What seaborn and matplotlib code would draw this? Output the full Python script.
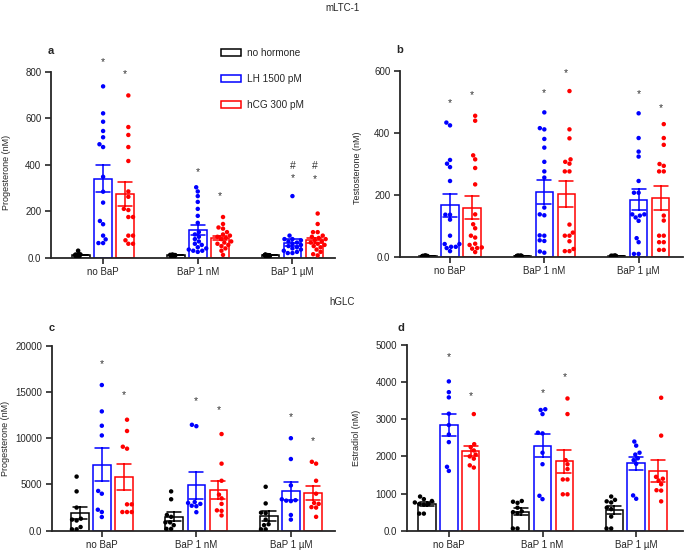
import warnings
import pandas as pd
import matplotlib.pyplot as plt
import matplotlib.patches as mpatches
import seaborn as sns

warnings.filterwarnings("ignore")

groups = ["no BaP", "BaP 1 nM", "BaP 1 µM"]
hormones = ["no hormone", "LH 1500 pM", "hCG 300 pM"]
colors = ["black", "#0000ff", "#ff0000"]

# a - mLTC-1, progesterone (nM), one list per BaP group
a_none = [[5, 8, 10, 12, 15, 10, 8, 30, 12, 10, 14, 6, 9, 11, 13, 10],
          [8, 10, 12, 9, 11, 10, 7, 13, 10, 9, 12, 8, 11, 10, 9, 10],
          [9, 10, 12, 8, 11, 10, 7, 13, 10, 9, 12, 8, 11, 10, 9, 10]]
a_lh = [[737, 621, 585, 545, 518, 476, 488, 348, 284, 237, 158, 144, 95, 79, 63, 63],
        [303, 285, 265, 240, 210, 180, 150, 110, 100, 90, 80, 70, 60, 55, 45, 35, 30, 25, 40, 30],
        [265, 95, 80, 80, 75, 70, 65, 60, 55, 50, 45, 40, 35, 30, 25, 20, 20]]
a_hcg = [[698, 562, 528, 476, 416, 285, 262, 210, 205, 175, 175, 95, 95, 75, 60, 60],
         [175, 145, 130, 125, 110, 100, 95, 90, 85, 80, 70, 65, 60, 55, 50, 40, 30, 12],
         [190, 145, 110, 110, 95, 90, 85, 80, 75, 70, 65, 60, 55, 50, 45, 35, 25, 15, 10]]
a_star_lh = [843, 370, 342]
a_star_hcg = [789, 265, 340]
a_hash = [None, None, 396]

# b - mLTC-1, testosterone (nM)
b_none = [[1, 2, 3, 2, 1, 2, 3, 2, 1, 2, 2, 3, 1, 2, 2, 1],
          [1, 2, 3, 2, 1, 2, 3, 2, 1, 2, 2, 3, 1, 2, 2, 1],
          [1, 2, 3, 2, 1, 2, 3, 2, 1, 2, 2, 3, 1, 2, 2, 1]]
b_lh = [[434, 425, 313, 301, 290, 245, 136, 136, 120, 68, 41, 41, 32, 32, 28, 18],
        [467, 416, 412, 381, 353, 307, 276, 256, 159, 137, 134, 69, 68, 51, 53, 13, 17],
        [464, 384, 340, 324, 245, 207, 207, 137, 137, 133, 127, 116, 60, 47, 9, 9]]
b_hcg = [[456, 440, 328, 315, 287, 234, 137, 105, 92, 68, 62, 42, 38, 30, 28, 26, 15],
         [536, 412, 383, 315, 307, 301, 276, 276, 104, 78, 68, 68, 50, 25, 18, 18],
         [429, 384, 362, 300, 294, 276, 276, 133, 117, 68, 68, 47, 47, 22, 22]]
b_star_lh = [498, 529, 525]
b_star_hcg = [522, 593, 482]

# c - hGLC, progesterone (nM)
c_none = [[5850, 4250, 2500, 1300, 1200, 1100, 400, 150, 150],
          [4250, 3400, 1700, 1500, 900, 900, 600, 200, 200],
          [4750, 2950, 1950, 1900, 1200, 700, 600, 150, 150]]
c_lh = [[15750, 12900, 11350, 10300, 4300, 4000, 2270, 2020, 1480],
        [11450, 11300, 3100, 3000, 2900, 2700, 2650, 2000],
        [10000, 7750, 4900, 3400, 3300, 3250, 3200, 1700, 1200]]
c_hcg = [[12000, 10780, 9080, 8870, 2850, 2850, 2020, 2020, 2020],
         [10450, 7250, 5400, 3900, 3500, 2900, 2200, 2150, 1650],
         [7450, 7250, 5400, 4000, 3000, 2900, 2550, 2500, 1500]]
c_star_lh = [18050, 13990, 12290]
c_star_hcg = [14670, 13080, 9730]

# d - hGLC, estradiol (nM)
d_none = [[920, 850, 800, 720, 760, 720, 700, 460, 460],
          [800, 780, 750, 620, 520, 500, 470, 60, 60],
          [920, 830, 790, 760, 620, 580, 380, 60, 60]]
d_lh = [[4020, 3730, 3590, 3150, 2845, 2590, 2385, 1720, 1610],
        [3270, 3250, 3140, 2640, 2620, 2100, 1790, 940, 850],
        [2400, 2290, 2050, 2100, 1950, 1900, 1800, 950, 860]]
d_hcg = [[3140, 2330, 2250, 2160, 2050, 2000, 1940, 1760, 1700],
         [3560, 3140, 1900, 1790, 1660, 1380, 1380, 980, 980],
         [3580, 2560, 1450, 1400, 1350, 1250, 1090, 1080, 790]]
d_star_lh = [4665, 3699, None]
d_star_hcg = [3634, 4146, None]


def long_df(none, lh, hcg):
    rows = []
    for hormone, series in zip(hormones, [none, lh, hcg]):
        for group, vals in zip(groups, series):
            for v in vals:
                rows.append({"group": group, "hormone": hormone, "value": v})
    return pd.DataFrame(rows)


sns.set_style("ticks")
plt.rcParams["font.family"] = ["Liberation Sans", "DejaVu Sans"]
plt.rcParams["axes.linewidth"] = 1.3

fig = plt.figure(figsize=(6.85, 5.56), dpi=100)

# letter, axes rect, data, y label, y ticks, xlim, stars, ylabel x, letter pos, flat baseline group
panels = [
    ("a", [0.0745, 0.5365, 0.4146, 0.3345], a_none, a_lh, a_hcg, "Progesterone (nM)",
     [0, 200, 400, 600, 800], (-0.55, 2.45), a_star_lh, a_star_hcg, (-0.141, 0.46), (0.0, 1.11), True),
    ("b", [0.584, 0.5383, 0.413, 0.3335], b_none, b_lh, b_hcg, "Testosterone (nM)",
     [0, 200, 400, 600], (-0.53, 2.47), b_star_lh, b_star_hcg, (-0.134, 0.478), (0.0, 1.115), True),
    ("c", [0.0755, 0.0455, 0.414, 0.3327], c_none, c_lh, c_hcg, "Progesterone (nM)",
     [0, 5000, 10000, 15000, 20000], (-0.53, 2.47), c_star_lh, c_star_hcg, (-0.147, 0.5), (0.0, 1.096), False),
    ("d", [0.5937, 0.0455, 0.4034, 0.334], d_none, d_lh, d_hcg, "Estradiol (nM)",
     [0, 1000, 2000, 3000, 4000, 5000], (-0.45, 2.5), d_star_lh, d_star_hcg, (-0.165, 0.5), (-0.022, 1.09), False),
]

width = 0.7
for (letter, rect, none, lh, hcg, ylabel, yticks, xlim, star_lh, star_hcg,
     ylab_pos, letter_pos, flat) in panels:
    ax = fig.add_axes(rect)
    df = long_df(none, lh, hcg)
    sns.barplot(data=df, x="group", y="value", hue="hormone", order=groups,
                hue_order=hormones, palette=colors, fill=False, width=width, gap=0.2,
                errorbar="se", capsize=0.45, linewidth=1.1,
                err_kws={"linewidth": 1.1}, legend=False, ax=ax)
    if flat:
        # near-zero controls: a swarm would spill sideways, so jitter them in the bar
        base = df[df["hormone"] == hormones[0]]
        rest = df[df["hormone"] != hormones[0]]
        sns.stripplot(data=base, x="group", y="value", hue="hormone", order=groups,
                      hue_order=hormones, palette=colors, dodge=True, jitter=0.085,
                      size=3.3, legend=False, ax=ax)
    else:
        rest = df
    sns.swarmplot(data=rest, x="group", y="value", hue="hormone", order=groups,
                  hue_order=hormones, palette=colors, dodge=True, size=3.2,
                  legend=False, ax=ax)
    ax.set_xlim(*xlim)
    ax.set_ylim(0, yticks[-1])
    ax.set_yticks(yticks)
    ax.set_yticklabels(["0.0" if t == 0 else str(t) for t in yticks])
    ax.set_xlabel("")
    ax.set_ylabel(ylabel, fontsize=6.5)
    ax.yaxis.set_label_coords(*ylab_pos)
    ax.tick_params(labelsize=7, length=4, width=1.2, pad=3)
    sns.despine(ax=ax)
    ax.text(letter_pos[0], letter_pos[1], letter, transform=ax.transAxes, fontsize=8,
            fontweight="bold", ha="center", va="center")

    # significance marks above LH / hCG groups
    off = width / 3
    for i in range(3):
        if star_lh[i] is not None:
            ax.text(i, star_lh[i], "*", ha="center", va="center", fontsize=7.5,
                    color="#333333", clip_on=False)
        if star_hcg[i] is not None:
            ax.text(i + off, star_hcg[i], "*", ha="center", va="center", fontsize=7.5,
                    color="#333333", clip_on=False)
        if letter == "a" and a_hash[i] is not None:
            ax.text(i, a_hash[i], "#", ha="center", va="center", fontsize=7.5, color="#333333")
            ax.text(i + off, a_hash[i], "#", ha="center", va="center", fontsize=7.5, color="#333333")

fig.text(0.5, 0.985, "mLTC-1", ha="center", va="center", fontsize=7)
fig.text(0.5, 0.457, "hGLC", ha="center", va="center", fontsize=7)

handles = [mpatches.Patch(facecolor="none", edgecolor=c, linewidth=1.1) for c in colors]
fig.legend(handles, hormones, loc="upper left", bbox_to_anchor=(0.322, 0.914),
           frameon=False, fontsize=7.2, handlelength=2.0, handleheight=0.7,
           handletextpad=0.6, labelspacing=1.6, borderpad=0, borderaxespad=0)

plt.savefig("out.png", dpi=100)
